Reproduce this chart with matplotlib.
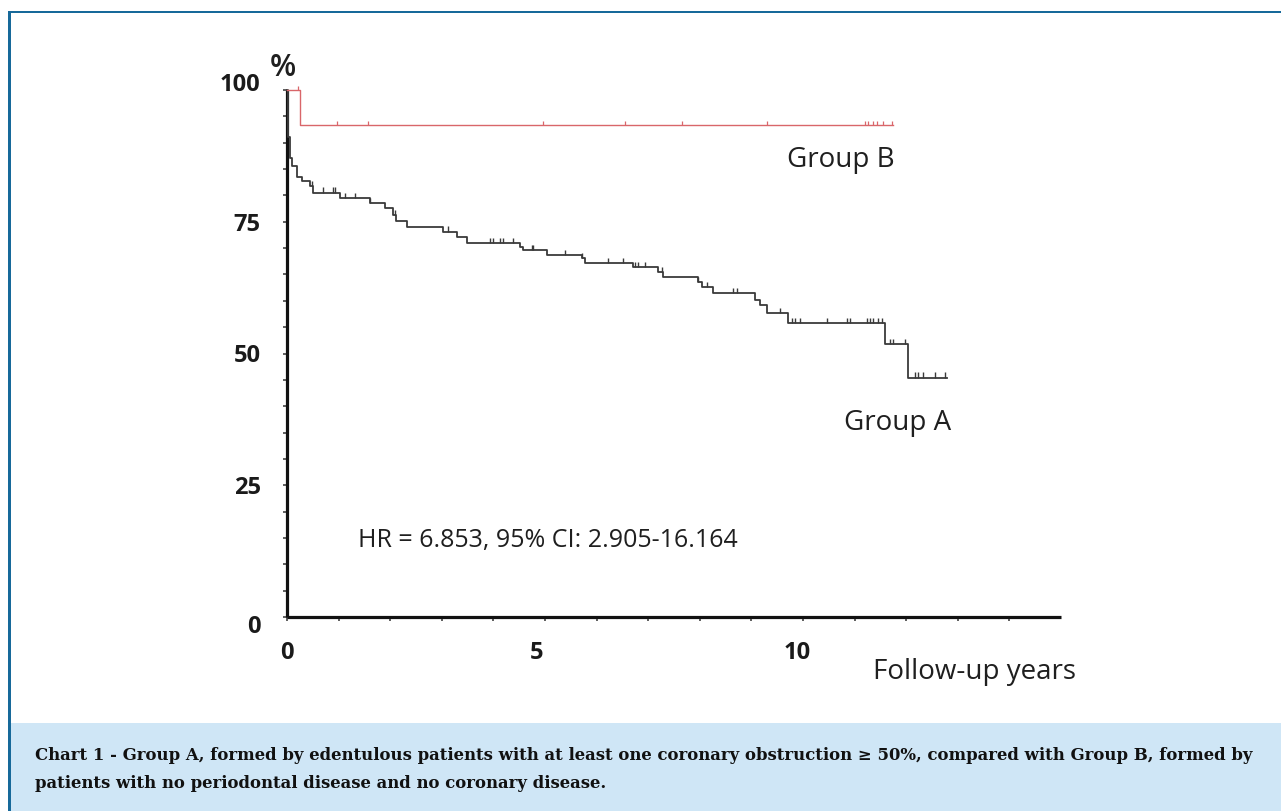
import numpy as np
import matplotlib
matplotlib.use("Agg")
import matplotlib.pyplot as plt
from matplotlib.patches import Rectangle
from matplotlib.transforms import ScaledTranslation

# ---- Kaplan-Meier steps ----
# Group A (edentulous + coronary obstruction)
a_times = [0, 0.02, 0.05, 0.10, 0.20, 0.30, 0.45, 0.50, 1.03, 1.61, 1.90, 2.05,
           2.11, 2.33, 3.02, 3.29, 3.49, 4.52, 4.57, 5.04, 5.72, 5.78, 6.71,
           7.19, 7.28, 7.97, 8.04, 8.26, 9.07, 9.17, 9.30, 9.71, 11.59, 12.03, 12.79]
a_surv = [100, 91.0, 87.1, 85.5, 83.5, 82.7, 81.7, 80.5, 79.5, 78.6, 77.6, 76.3,
          75.1, 74.0, 73.1, 72.1, 71.0, 70.2, 69.6, 68.7, 68.1, 67.2, 66.4,
          65.5, 64.5, 63.6, 62.6, 61.5, 60.2, 59.2, 57.7, 55.8, 51.8, 45.4, 45.4]
a_censored = [0.48, 0.70, 0.89, 0.93, 1.12, 1.32, 1.61, 2.09, 3.12, 3.93, 3.99,
              4.13, 4.19, 4.38, 4.75, 4.77, 5.39, 5.72, 6.22, 6.51, 6.74, 6.80,
              6.94, 7.27, 7.97, 8.14, 8.64, 8.72, 9.55, 9.79, 9.84, 9.94, 10.47,
              10.85, 10.91, 11.24, 11.30, 11.36, 11.45, 11.53, 11.69, 11.74,
              11.98, 12.17, 12.23, 12.33, 12.56, 12.75]

# Group B (no periodontal, no coronary disease)
b_times = [0, 0.25, 11.74]
b_surv = [100, 93.4, 93.4]
b_censored = [0.21, 0.97, 1.57, 4.96, 6.55, 7.66, 9.30, 11.20, 11.26, 11.36,
              11.43, 11.55, 11.72]

y_ticks = [0, 25, 50, 75, 100]
y_labels = ["0", "25", "50", "75", "100"]
x_ticks = [0, 5, 10]

caption1 = ("Chart 1 - Group A, formed by edentulous patients with at least one "
            "coronary obstruction \u2265 50%, compared with Group B, formed by")
caption2 = "patients with no periodontal disease and no coronary disease."
hr_text = "HR = 6.853, 95% CI: 2.905-16.164"

W, H = 1281, 811
fig = plt.figure(figsize=(W / 100, H / 100), dpi=100)
fig.patch.set_facecolor("white")


def px(x, y):
    return x / W, 1 - y / H


# frame and caption band
blue = "#17699a"
fig.patches.append(Rectangle(px(11, 811), (W - 11) / W, 88 / H, transform=fig.transFigure,
                             facecolor="#cfe6f6", edgecolor="none", zorder=0))
fig.patches.append(Rectangle(px(8, 13), (W - 8) / W, 2.5 / H, transform=fig.transFigure,
                             facecolor=blue, edgecolor="none", zorder=1))
fig.patches.append(Rectangle(px(8, 811), 3 / W, (811 - 11) / H, transform=fig.transFigure,
                             facecolor=blue, edgecolor="none", zorder=1))

# axes: x 0..15 -> px 287..1061, y 0..100 -> px 617..90
x0, y0 = px(287, 617)
ax = fig.add_axes([x0, y0, (1061 - 287) / W, (617 - 90) / H])
ax.set_xlim(0, 15)
ax.set_ylim(0, 100)
for s in ["top", "right"]:
    ax.spines[s].set_visible(False)
for s in ["left", "bottom"]:
    ax.spines[s].set_linewidth(2.3)
    ax.spines[s].set_color("#111111")
    ax.spines[s].set_capstyle("butt")

ax.set_xticks(range(0, 15), minor=True)
ax.set_xticks(x_ticks)
ax.set_xticklabels([str(v) for v in x_ticks])
ax.set_yticks(np.arange(0, 101, 5), minor=True)
ax.set_yticks(y_ticks)
ax.set_yticklabels(y_labels)
ax.tick_params(which="both", direction="out", length=3, width=1.1, color="#333333")
ax.tick_params(axis="y", pad=16)
ax.tick_params(axis="x", pad=14)
for lab in ax.get_xticklabels() + ax.get_yticklabels():
    lab.set_fontfamily("Open Sans")
    lab.set_fontweight("bold")
    lab.set_fontsize(17)
    lab.set_color("#1a1a1a")

# the original labels sit slightly off their ticks
shifts_y = {"0": -7, "100": 8}
for lab in ax.get_yticklabels():
    dy = shifts_y.get(lab.get_text(), 0)
    if dy:
        lab.set_transform(lab.get_transform() + ScaledTranslation(0, dy / 100, fig.dpi_scale_trans))
shifts_x = {"5": -8, "10": -6}
for lab in ax.get_xticklabels():
    dx = shifts_x.get(lab.get_text(), 0)
    if dx:
        lab.set_transform(lab.get_transform() + ScaledTranslation(dx / 100, 0, fig.dpi_scale_trans))

# curves
ax.step(a_times, a_surv, where="post", color="#3a3a3a", lw=1.3, clip_on=False, zorder=3)
ax.step(b_times, b_surv, where="post", color="#d9666a", lw=1.0, clip_on=False, zorder=3)


def surv_at(times, surv, t):
    i = np.searchsorted(times, t, side="right") - 1
    return surv[i]


a_cs = [surv_at(a_times, a_surv, t) for t in a_censored]
b_cs = [surv_at(b_times, b_surv, t) for t in b_censored]
ax.vlines(a_censored, a_cs, np.array(a_cs) + 1.0, color="#3a3a3a", lw=1.0, clip_on=False)
ax.vlines(b_censored, b_cs, np.array(b_cs) + 0.8, color="#d9666a", lw=0.9, clip_on=False)

# annotations
txt = dict(family="Open Sans", color="#1f1f1f")
fig.text(*px(283, 68), "%", ha="center", va="center", fontsize=22, fontweight="semibold", **txt)
fig.text(*px(841, 160), "Group B", ha="center", va="center", fontsize=20, **txt)
fig.text(*px(898, 423), "Group A", ha="center", va="center", fontsize=20, **txt)
fig.text(*px(358, 541), hr_text, ha="left", va="center", fontsize=18, **txt)
fig.text(*px(873, 672), "Follow-up years", ha="left", va="center", fontsize=20, **txt)

cap = dict(family="DejaVu Serif", fontweight="bold", fontsize=11.85, color="#111111")
fig.text(*px(35, 755), caption1, ha="left", va="center", **cap)
fig.text(*px(35, 783), caption2, ha="left", va="center", **cap)

fig.savefig("out.png", dpi=100)
